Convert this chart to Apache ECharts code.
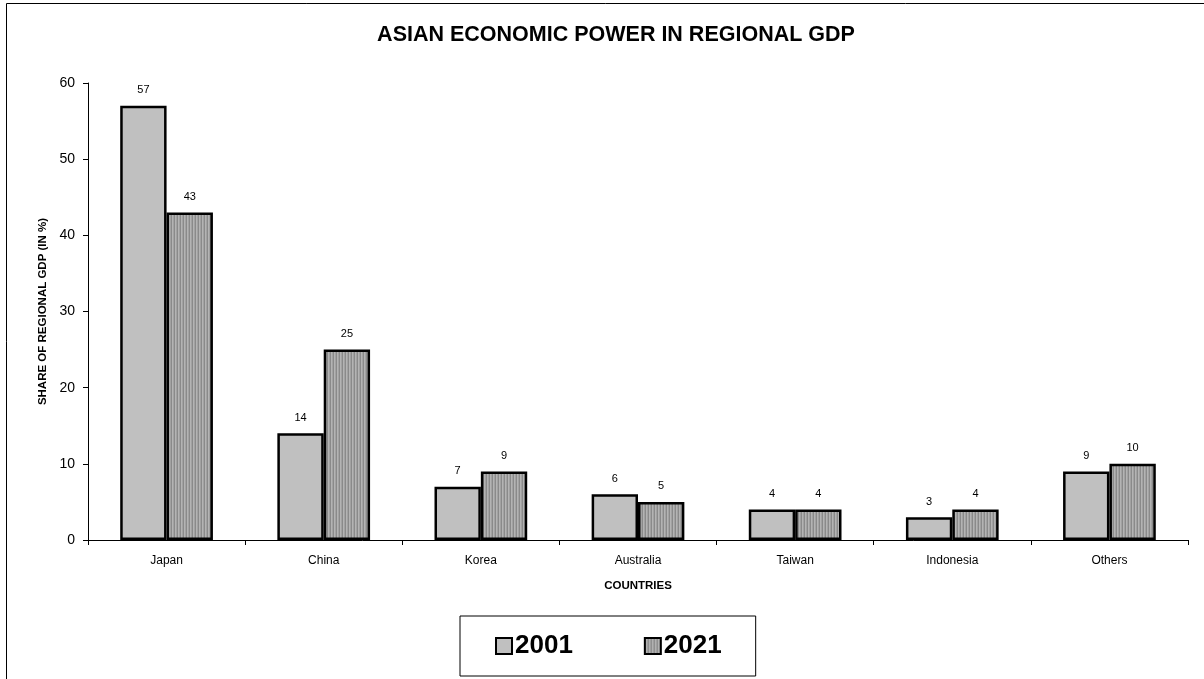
<!DOCTYPE html>
<html>
<head>
<meta charset="utf-8">
<style>
  html, body { margin: 0; padding: 0; background: #fff; }
  #chart { width: 1204px; height: 679px; }
</style>
<script src="https://cdn.jsdelivr.net/npm/echarts@6/dist/echarts.min.js"></script>
</head>
<body>
<div id="chart"></div>
<script>
// Share of regional GDP by country, in percent
const countries = ['Japan', 'China', 'Korea', 'Australia', 'Taiwan', 'Indonesia', 'Others'];
const share2001 = [57, 14, 7, 6, 4, 3, 9];
const share2021 = [43, 25, 9, 5, 4, 4, 10];
const seriesNames = ['2001', '2021'];
const chartTitle = 'ASIAN ECONOMIC POWER IN REGIONAL GDP';

// Vertical pinstripe fill for the 2021 bars
function stripePattern() {
  const c = document.createElement('canvas');
  c.width = 3; c.height = 4;
  const ctx = c.getContext('2d');
  const cols = ['#8a8a8a', '#b4b4b4', '#a2a2a2'];
  cols.forEach((col, i) => { ctx.fillStyle = col; ctx.fillRect(i, 0, 1, 4); });
  return { image: c, repeat: 'repeat' };
}

const font = 'Liberation Sans, Arial, sans-serif';
const chart = echarts.init(document.getElementById('chart'), null, { renderer: 'canvas' });

const barLabel = {
  show: true, position: 'top', distance: 10,
  color: '#000', fontSize: 11, fontFamily: font
};

chart.setOption({
  backgroundColor: '#fff',
  animation: false,
  graphic: [
    {
      type: 'rect', silent: true, z: -1,
      shape: { x: 6.5, y: 3.5, width: 1230, height: 700 },
      style: { fill: 'none', stroke: '#000', lineWidth: 1 }
    },
    {
      type: 'text', silent: true,
      x: 616, y: 35,
      style: {
        text: chartTitle,
        textAlign: 'center', textVerticalAlign: 'middle',
        fontFamily: font, fontSize: 21.5, fontWeight: 'bold', fill: '#000'
      }
    }
  ],
  legend: {
    bottom: 3, left: 460,
    orient: 'horizontal',
    padding: [17, 34, 17, 35],
    borderColor: '#000', borderWidth: 1,
    itemWidth: 16, itemHeight: 16, itemGap: 71,
    icon: 'rect',
    itemStyle: { borderColor: '#000', borderWidth: 2 },
    textStyle: { fontFamily: font, fontSize: 26, fontWeight: 'bold', color: '#000', padding: [0, 0, 0, -2] },
    data: seriesNames
  },
  grid: { left: 88, right: 16, top: 83, bottom: 139 },
  xAxis: {
    type: 'category',
    data: countries,
    name: 'COUNTRIES',
    nameLocation: 'middle', nameGap: 40,
    nameTextStyle: { fontFamily: font, fontSize: 11.5, fontWeight: 'bold', color: '#000' },
    axisLine: { lineStyle: { color: '#000', width: 1 } },
    axisTick: { show: true, alignWithLabel: false, length: 5, lineStyle: { color: '#000' } },
    axisLabel: { fontFamily: font, fontSize: 12, color: '#000', margin: 15 }
  },
  yAxis: {
    type: 'value',
    min: 0, max: 60, interval: 10,
    name: 'SHARE OF REGIONAL GDP (IN %)',
    nameLocation: 'middle', nameGap: 34, nameRotate: 90,
    nameTextStyle: { fontFamily: font, fontSize: 11.5, fontWeight: 'bold', color: '#000' },
    axisLine: { show: true, lineStyle: { color: '#000', width: 1 } },
    axisTick: { show: true, length: 5, lineStyle: { color: '#000' } },
    axisLabel: { fontFamily: font, fontSize: 14, color: '#000', margin: 13 },
    splitLine: { show: false }
  },
  series: [
    {
      name: seriesNames[0], type: 'bar', data: share2001,
      barGap: '0%', barCategoryGap: '41%',
      itemStyle: { color: '#c0c0c0', borderColor: '#000', borderWidth: 2.5 },
      label: barLabel
    },
    {
      name: seriesNames[1], type: 'bar', data: share2021,
      itemStyle: { color: stripePattern(), borderColor: '#000', borderWidth: 2.5 },
      label: barLabel
    }
  ]
});
</script>
</body>
</html>
